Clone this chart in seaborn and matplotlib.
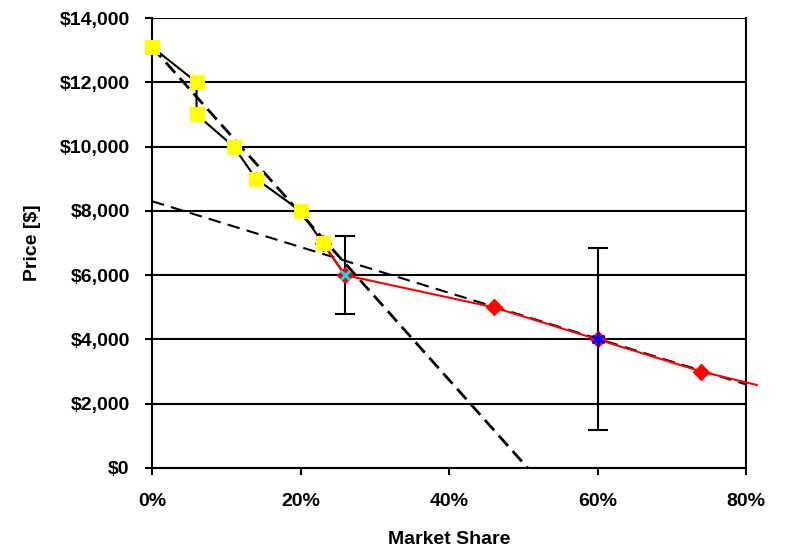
import matplotlib
matplotlib.use("Agg")
import matplotlib.pyplot as plt
import seaborn as sns
import numpy as np
from matplotlib.ticker import FuncFormatter, MultipleLocator

# ---- data (market share in %, price in $) ----
yellow_share = [0, 6, 6, 11, 14, 20, 23]
yellow_price = [13100, 12000, 11000, 10000, 9000, 8000, 7000]

black_share = [0, 6, 6, 11, 14, 20, 23, 26]
black_price = [13100, 12000, 11000, 10000, 9000, 8000, 7000, 6000]

red_share = [23, 26, 46, 60, 74, 81.5]
red_price = [7000, 6000, 5000, 4000, 3000, 2580]

diamond_share = [23, 26, 46, 60, 74]
diamond_price = [7000, 6000, 5000, 4000, 3000]

steep_share = [0, 50.6]
steep_price = [13100, 0]
flat_share = [0, 80]
flat_price = [8300, 2600]

err_share = [26, 60]
err_price = [6000, 4000]
err_size = [1220, 2830]

cyan_share, cyan_price = [26], [6000]
blue_share, blue_price = [60], [4000]

# ---- style ----
sns.set_theme(style="white")
plt.rcParams["font.family"] = ["Liberation Sans", "DejaVu Sans"]
plt.rcParams["font.weight"] = "bold"
plt.rcParams["text.color"] = "black"
plt.rcParams["axes.labelcolor"] = "black"

fig = plt.figure(figsize=(7.86, 5.52), dpi=100)
ax = fig.add_axes([152/786, (552-468)/552, (746-152)/786, (468-18)/552])

# dashed trend lines
sns.lineplot(x=steep_share, y=steep_price, ax=ax, color="black", lw=2.0,
             sort=False, estimator=None, zorder=3)
ax.lines[-1].set_dashes([5, 2.5])
sns.lineplot(x=flat_share, y=flat_price, ax=ax, color="black", lw=1.5,
             sort=False, estimator=None, zorder=3)
ax.lines[-1].set_dashes([6, 3.5])

# solid series lines
sns.lineplot(x=black_share, y=black_price, ax=ax, color="black", lw=1.5,
             sort=False, estimator=None, zorder=4)
sns.lineplot(x=red_share, y=red_price, ax=ax, color="red", lw=1.5,
             sort=False, estimator=None, zorder=4)
ax.lines[-1].set_clip_on(False)

# error bars
ax.errorbar(err_share, err_price, yerr=err_size, fmt="none", ecolor="black",
            elinewidth=1.5, capsize=7, capthick=1.5, zorder=5)

# markers
sns.scatterplot(x=diamond_share, y=diamond_price, ax=ax, marker="D", s=70,
                color="red", edgecolor="red", zorder=6)
sns.scatterplot(x=yellow_share, y=yellow_price, ax=ax, marker="s", s=90,
                color="#FFFF00", edgecolor="#FFFF00", zorder=7, clip_on=False)
sns.scatterplot(x=cyan_share, y=cyan_price, ax=ax, marker="x", s=45,
                color="#00E5FF", linewidth=2, zorder=8)
sns.scatterplot(x=blue_share, y=blue_price, ax=ax, marker=(6, 2, 0), s=70,
                color="blue", linewidth=2, zorder=8)

# axes
ax.set_xlim(0, 80)
ax.set_ylim(0, 14000)
ax.xaxis.set_major_locator(MultipleLocator(20))
ax.yaxis.set_major_locator(MultipleLocator(2000))
ax.xaxis.set_major_formatter(FuncFormatter(lambda v, p: f"{v:.0f}%"))
ax.yaxis.set_major_formatter(FuncFormatter(lambda v, p: f"${v:,.0f}"))
ax.yaxis.grid(True, color="black", lw=1.5)
ax.xaxis.grid(False)
ax.set_axisbelow(True)
for side in ["left", "bottom", "right"]:
    ax.spines[side].set_visible(True)
    ax.spines[side].set_color("black")
    ax.spines[side].set_linewidth(1.5)
ax.spines["top"].set_visible(False)
ax.tick_params(axis="both", direction="out", length=5, width=1.5, color="black",
               labelsize=14, labelcolor="black")
ax.tick_params(axis="y", pad=11, left=True)
ax.tick_params(axis="x", pad=13, bottom=True)
for lab in ax.get_xticklabels() + ax.get_yticklabels():
    lab.set_fontweight("bold")

ax.set_xlabel("Market Share", fontsize=14, fontweight="bold", color="black", labelpad=15)
ax.set_ylabel("Price [$]", fontsize=14, fontweight="bold", color="black", labelpad=13)

fig.savefig("out.png", dpi=100)
